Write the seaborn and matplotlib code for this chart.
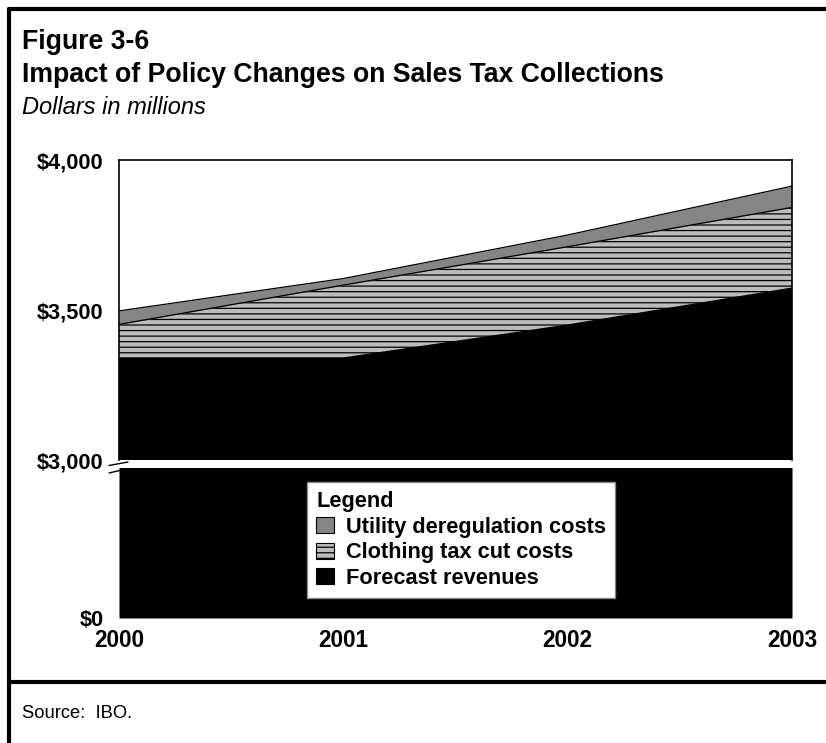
import matplotlib
matplotlib.use("Agg")
import matplotlib.pyplot as plt
import seaborn as sns
import numpy as np
from matplotlib.patches import Patch
from matplotlib.lines import Line2D

sns.set_theme(style="white")
plt.rcParams['font.family'] = ['Liberation Sans', 'DejaVu Sans']
plt.rcParams['hatch.linewidth'] = 0.9
plt.rcParams['hatch.color'] = 'black'
plt.rcParams['text.color'] = 'black'
plt.rcParams['xtick.color'] = 'black'
plt.rcParams['ytick.color'] = 'black'
plt.rcParams['axes.labelcolor'] = 'black'

# ---- data ----
years = [2000, 2001, 2002, 2003]
year_labels = ["2000", "2001", "2002", "2003"]
forecast = [3340, 3340, 3450, 3573]
clothing = [112, 243, 261, 269]
utility = [45, 22, 39, 71]
series_names = ["Utility deregulation costs", "Clothing tax cut costs", "Forecast revenues"]
top_ticks = [3000, 3500, 4000]
top_tick_labels = ["$3,000", "$3,500", "$4,000"]
bottom_ticks = [0]
bottom_tick_labels = ["$0"]

x = np.array(years)
f = np.array(forecast, dtype=float)
c_top = f + np.array(clothing)
u_top = c_top + np.array(utility)

W, H = 826, 743
fig = plt.figure(figsize=(W / 100, H / 100), dpi=100)

def fx(px):
    return px / W

def fy(py):
    return 1 - py / H

L, R = 119, 792
ax_top = fig.add_axes([fx(L), fy(460), fx(R) - fx(L), fy(160) - fy(460)])
ax_bot = fig.add_axes([fx(L), fy(618), fx(R) - fx(L), fy(468) - fy(618)])

col_util = '#858585'
col_cloth = '#bcbcbc'
col_fore = 'black'

for ax in (ax_top, ax_bot):
    ax.fill_between(x, 0, f, color=col_fore, linewidth=0, zorder=2)
    ax.fill_between(x, f, c_top, facecolor=col_cloth, edgecolor='black',
                    hatch='---', linewidth=0, zorder=2)
    ax.fill_between(x, c_top, u_top, facecolor=col_util, linewidth=0, zorder=2)
    for y in (f, c_top, u_top):
        sns.lineplot(x=x, y=y, color='black', linewidth=0.9, ax=ax, zorder=3)
    ax.set_xlim(2000, 2003)
    ax.set_xlabel('')
    ax.set_ylabel('')
    ax.tick_params(length=0)

tick_font = 15.7
ax_top.set_ylim(3000, 4000)
ax_top.set_yticks(top_ticks)
ax_top.set_yticklabels(top_tick_labels, fontsize=tick_font, fontweight='bold')
ax_top.set_xticks([])
ax_top.spines['bottom'].set_visible(False)
for s in ('left', 'top', 'right'):
    ax_top.spines[s].set_color('black')
    ax_top.spines[s].set_linewidth(1.2)
    ax_top.spines[s].set_zorder(4)
ax_top.tick_params(axis='y', pad=11)

ax_bot.set_ylim(0, 3000)
ax_bot.set_yticks(bottom_ticks)
ax_bot.set_yticklabels(bottom_tick_labels, fontsize=tick_font, fontweight='bold')
ax_bot.set_xticks(years)
ax_bot.set_xticklabels(year_labels, fontsize=16.3, fontweight='bold')
ax_bot.tick_params(axis='x', pad=8)
ax_bot.tick_params(axis='y', pad=11)
for s in ax_bot.spines.values():
    s.set_visible(False)

# break marks
fig.add_artist(Line2D([fx(109), fx(128)], [fy(465.5), fy(462)], color='black', lw=1.0))
fig.add_artist(Line2D([fx(109), fx(128)], [fy(473), fy(468.5)], color='black', lw=1.0))

# legend
leg_font = 15.7
handles = [Patch(facecolor=col_util, edgecolor='black', linewidth=0.8),
           Patch(facecolor=col_cloth, edgecolor='black', hatch='---', linewidth=0.8),
           Patch(facecolor=col_fore, edgecolor='black', linewidth=0.8)]
leg = ax_bot.legend(handles, series_names, title='Legend', loc='upper left',
                    bbox_to_anchor=(fx(307), fy(482)), bbox_transform=fig.transFigure,
                    borderaxespad=0, fancybox=False, frameon=True,
                    prop={'size': leg_font, 'weight': 'bold'},
                    title_fontproperties={'size': leg_font, 'weight': 'bold'},
                    alignment='left', handlelength=0.81, handleheight=0.77,
                    handletextpad=0.55, labelspacing=0.21, borderpad=0.42)
leg.get_frame().set_edgecolor('#888888')
leg.get_frame().set_linewidth(1.0)
leg.get_frame().set_facecolor('white')
leg.get_frame().set_alpha(1)
leg.set_zorder(10)

# titles
fig.text(fx(22), fy(42), "Figure 3-6", fontsize=19.2, fontweight='bold', va='center', ha='left')
fig.text(fx(22), fy(75), "Impact of Policy Changes on Sales Tax Collections", fontsize=19.2,
         fontweight='bold', va='center', ha='left')
fig.text(fx(22), fy(107), "Dollars in millions", fontsize=17, style='italic', va='center', ha='left')
fig.text(fx(22), fy(713), "Source:  IBO.", fontsize=13.2, va='center', ha='left')

# frame lines
fig.add_artist(Line2D([fx(9), 1], [fy(9), fy(9)], color='black', lw=3))
fig.add_artist(Line2D([fx(9), fx(9)], [fy(9), 0], color='black', lw=3))
fig.add_artist(Line2D([fx(9), 1], [fy(682), fy(682)], color='black', lw=3))

fig.savefig("out.png", dpi=100)
